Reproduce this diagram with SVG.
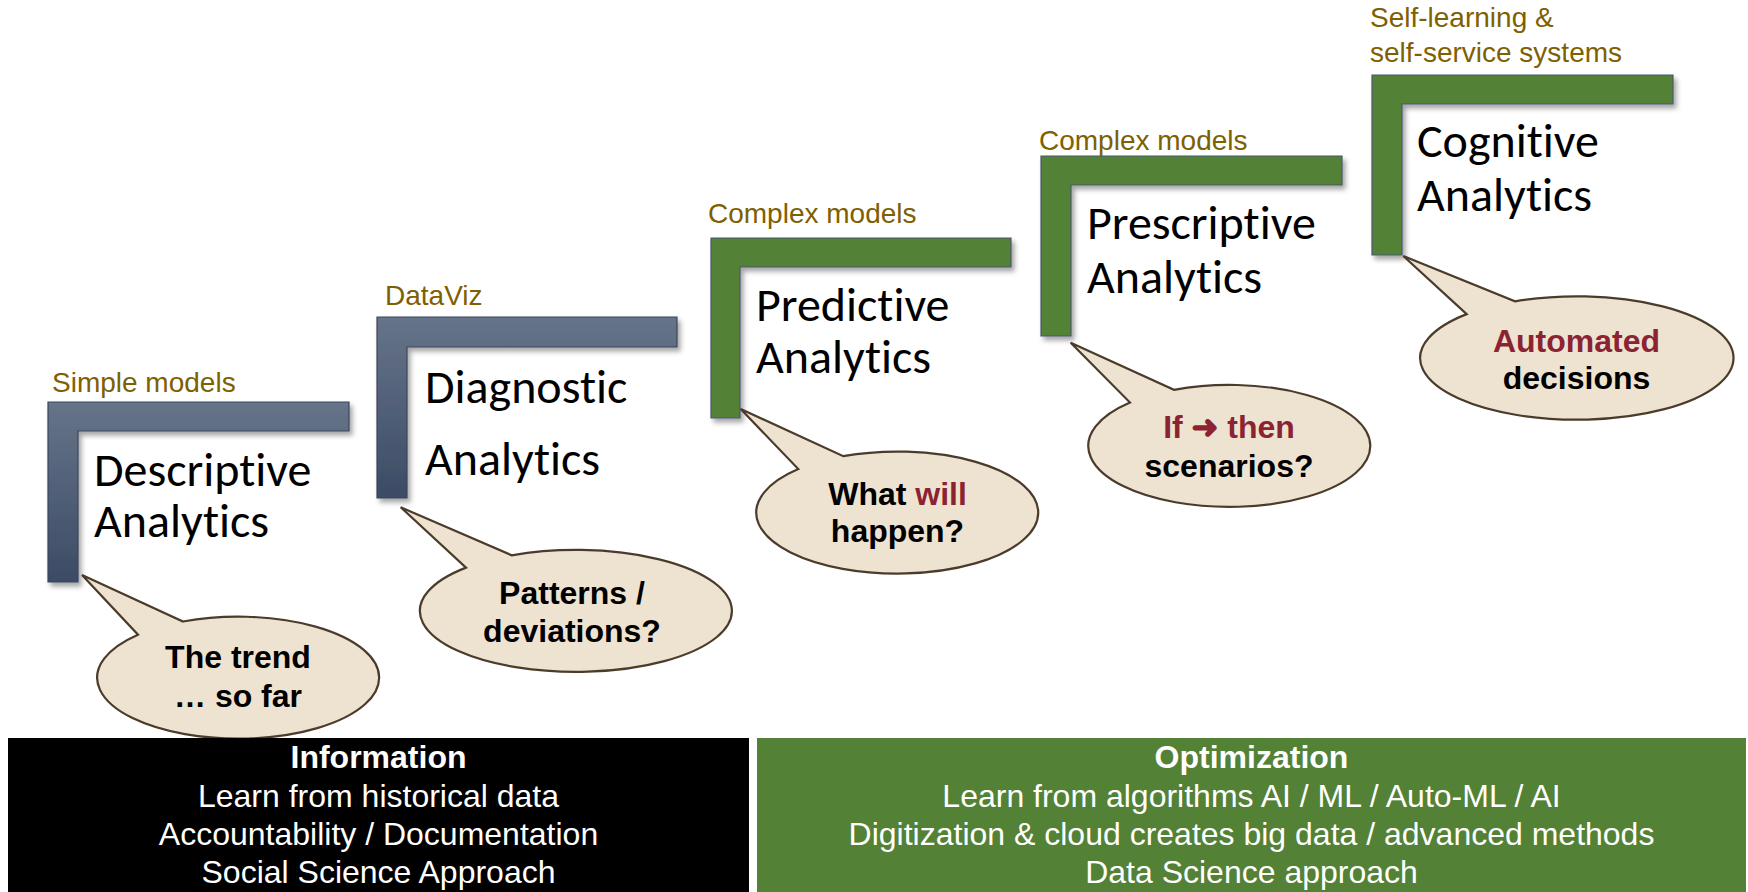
<svg xmlns="http://www.w3.org/2000/svg" width="1748" height="892" viewBox="0 0 1748 892">
<defs>
<linearGradient id="gBlue" x1="0" y1="0" x2="0" y2="1">
<stop offset="0" stop-color="#667489"/>
<stop offset="1" stop-color="#3C4B65"/>
</linearGradient>
<filter id="sh" x="-10%" y="-10%" width="125%" height="130%">
<feDropShadow dx="3" dy="4" stdDeviation="2.5" flood-color="#000" flood-opacity="0.35"/>
</filter>
<style>
.lblue{fill:url(#gBlue);stroke:#3A475C;stroke-width:1.2;filter:url(#sh)}
.lgreen{fill:#538135;stroke:#4A5870;stroke-width:1.2;filter:url(#sh)}
.olive{font-family:"Liberation Sans",Arial,sans-serif;font-size:28px;fill:#7F6000}
.title{font-family:Carlito,Lato,"Open Sans",sans-serif;font-size:48px;fill:#000;font-variant-ligatures:none}
.bub{fill:#EEE3D0;stroke:#4B3B2A;stroke-width:2.2;stroke-linejoin:miter}
.bt{font-family:"Liberation Sans",Arial,sans-serif;font-size:32px;font-weight:bold;fill:#000;text-anchor:middle}
.red{fill:#8B2332}
.arr{font-family:"DejaVu Sans",sans-serif;stroke:#8B2332;stroke-width:1.4}
.band{font-family:"Liberation Sans",Arial,sans-serif;font-size:32px;fill:#fff;text-anchor:middle}
.bandh{font-weight:bold}
</style>
</defs>
<rect width="1748" height="892" fill="#fff"/>

<g id="node-descriptive">
<path class="lblue" d="M48,402 H349 V431 H78 V582 H48 Z"/>
<text class="olive" x="52" y="392">Simple models</text>
<text class="title"><tspan x="94" y="486">Descriptive</tspan><tspan x="94" y="537">Analytics</tspan></text>
</g>

<g id="node-diagnostic">
<path class="lblue" d="M377,317 H677 V347 H407 V498 H377 Z"/>
<text class="olive" x="385" y="305">DataViz</text>
<text class="title"><tspan x="425" y="403">Diagnostic</tspan><tspan x="425" y="475">Analytics</tspan></text>
</g>

<g id="node-predictive">
<path class="lgreen" d="M711,238 H1011 V267 H740 V418 H711 Z"/>
<text class="olive" x="708" y="223">Complex models</text>
<text class="title"><tspan x="756" y="321">Predictive</tspan><tspan x="756" y="373">Analytics</tspan></text>
</g>

<g id="node-prescriptive">
<path class="lgreen" d="M1041,156 H1342 V185 H1071 V336 H1041 Z"/>
<text class="olive" x="1039" y="150">Complex models</text>
<text class="title"><tspan x="1087" y="239">Prescriptive</tspan><tspan x="1087" y="293">Analytics</tspan></text>
</g>

<g id="node-cognitive">
<path class="lgreen" d="M1372,75 H1673 V104 H1402 V255 H1372 Z"/>
<text class="olive" x="1370" y="27">Self-learning &amp;</text>
<text class="olive" x="1370" y="62">self-service systems</text>
<text class="title"><tspan x="1417" y="157">Cognitive</tspan><tspan x="1417" y="211">Analytics</tspan></text>
</g>

<g id="connectors">
<g id="bubble-1">
<path class="bub" d="M183,621.5 A141,61 0 1 1 138,634.7 L82,575 Z"/>
<text class="bt" x="238" y="668">The trend</text>
<text class="bt" x="238" y="707">… so far</text>
</g>
<g id="bubble-2">
<path class="bub" d="M511.7,555.3 A156,61 0 1 1 466,567.6 L400.7,507.3 Z"/>
<text class="bt" x="572" y="604">Patterns /</text>
<text class="bt" x="572" y="642">deviations?</text>
</g>
<g id="bubble-3">
<path class="bub" d="M843.3,456.2 A141,61 0 1 1 798.3,469.1 L740.7,409 Z"/>
<text class="bt" x="897.5" y="505">What <tspan class="red">will</tspan></text>
<text class="bt" x="897.5" y="542">happen?</text>
</g>
<g id="bubble-4">
<path class="bub" d="M1174,389.8 A141,61 0 1 1 1130,402.6 L1070.7,342.7 Z"/>
<text class="bt red" x="1229" y="438">If <tspan class="arr">➜</tspan> then</text>
<text class="bt" x="1229" y="477">scenarios?</text>
</g>
<g id="bubble-5">
<path class="bub" d="M1515,301.3 A156.7,61.7 0 1 1 1466.7,314.1 L1403.3,256 Z"/>
<text class="bt red" x="1576.5" y="352">Automated</text>
<text class="bt" x="1576.5" y="389">decisions</text>
</g>
</g>

<g id="band-information">
<rect x="8" y="738" width="741" height="154" fill="#000"/>
<text class="band bandh" x="378.5" y="768">Information</text>
<text class="band" x="378.5" y="807">Learn from historical data</text>
<text class="band" x="378.5" y="845">Accountability / Documentation</text>
<text class="band" x="378.5" y="883">Social Science Approach</text>
</g>

<g id="band-optimization">
<rect x="757" y="738" width="989" height="154" fill="#538135"/>
<text class="band bandh" x="1251.5" y="768">Optimization</text>
<text class="band" x="1251.5" y="807">Learn from algorithms AI / ML / Auto-ML / AI</text>
<text class="band" x="1251.5" y="845">Digitization &amp; cloud creates big data / advanced methods</text>
<text class="band" x="1251.5" y="883">Data Science approach</text>
</g>
</svg>
